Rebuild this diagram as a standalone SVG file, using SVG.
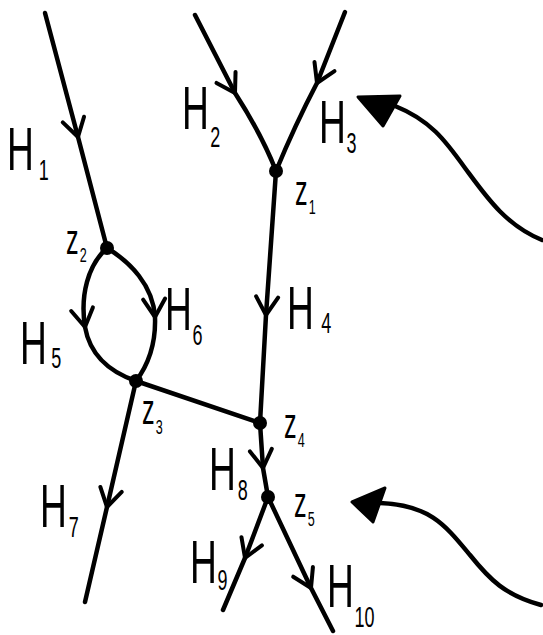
<svg xmlns="http://www.w3.org/2000/svg" width="543" height="635" viewBox="0 0 543 635">
<style>
.e{fill:none;stroke:#000;stroke-width:4.5;stroke-linecap:round;stroke-linejoin:round}
.a{fill:none;stroke:#000;stroke-width:4.5;stroke-linecap:round;stroke-linejoin:round;marker-mid:url(#chev)}
.n{fill:#000}
text{font-family:"Liberation Sans",Arial,sans-serif;fill:#000}
.H{font-size:62px}
.s{font-size:30px}
.z{font-size:42px}
.zs{font-size:21px}
</style>
<defs>
<marker id="chev" markerUnits="userSpaceOnUse" viewBox="-22 -14 26 28" markerWidth="26" markerHeight="28" refX="0" refY="0" orient="auto">
<path d="M-18,-11 L0,0 L-18,11" fill="none" stroke="#000" stroke-width="4" stroke-linecap="round" stroke-linejoin="round"/>
</marker>
</defs>
<g id="connectors">
<path id="e-H1" class="a" d="M45,13 L78,137 L107,248"/>
<path id="e-H2" class="a" d="M195,15 L235,93 Q262,135 276,171"/>
<path id="e-H3" class="a" d="M345,12 L317,83 Q295,125 276,171"/>
<path id="e-H4" class="a" d="M276,171 L266,315 L260,423"/>
<path id="e-H5" class="a" d="M107,248 C88,265 80,295 85,327 C90,355 110,372 136,381"/>
<path id="e-H6" class="a" d="M107,248 C130,262 153,285 155,317 C156,345 148,365 136,381"/>
<path id="e-z3z4" class="e" d="M136,381 L260,423"/>
<path id="e-H7" class="a" d="M136,381 L107,507 L85,602"/>
<path id="e-H8" class="a" d="M260,423 L263,468 L268,497"/>
<path id="e-H9" class="a" d="M268,497 L245,558 L223,610"/>
<path id="e-H10" class="a" d="M268,497 L311,588 L333,631"/>
<path id="pointer-top" class="e" d="M542,240 C505,225 485,195 465,168 C445,140 430,120 395,106"/>
<polygon points="358,97 400,96 383,126" fill="#000" stroke="#000" stroke-width="3" stroke-linejoin="round"/>
<path id="pointer-bottom" class="e" d="M541,605 C505,595 490,580 470,555 C445,525 430,505 380,503"/>
<polygon points="352,502 385,488 373,522" fill="#000" stroke="#000" stroke-width="3" stroke-linejoin="round"/>
</g>
<g id="z1"><circle class="n" cx="276" cy="171" r="7"/><text class="z" transform="translate(295,205) scale(0.6,1)">z<tspan class="zs" x="23" y="9">1</tspan></text></g>
<g id="z2"><circle class="n" cx="107" cy="248" r="7"/><text class="z" transform="translate(66,254) scale(0.6,1)">z<tspan class="zs" x="23" y="8">2</tspan></text></g>
<g id="z3"><circle class="n" cx="136" cy="381" r="7"/><text class="z" transform="translate(142,424) scale(0.6,1)">z<tspan class="zs" x="23" y="10">3</tspan></text></g>
<g id="z4"><circle class="n" cx="260" cy="423" r="7"/><text class="z" transform="translate(284,438) scale(0.6,1)">z<tspan class="zs" x="23" y="9">4</tspan></text></g>
<g id="z5"><circle class="n" cx="268" cy="497" r="7"/><text class="z" transform="translate(294,517) scale(0.6,1)">z<tspan class="zs" x="23" y="9">5</tspan></text></g>
<g id="H1"><text class="H" transform="translate(7,170) scale(0.6,1)">H<tspan class="s" x="53" y="10">1</tspan></text></g>
<g id="H2"><text class="H" transform="translate(182,129) scale(0.6,1)">H<tspan class="s" x="47" y="18">2</tspan></text></g>
<g id="H3"><text class="H" transform="translate(319,143) scale(0.6,1)">H<tspan class="s" x="46" y="10">3</tspan></text></g>
<g id="H4"><text class="H" transform="translate(287,329) scale(0.6,1)">H<tspan class="s" x="57" y="4">4</tspan></text></g>
<g id="H5"><text class="H" transform="translate(20,364) scale(0.6,1)">H<tspan class="s" x="52" y="4">5</tspan></text></g>
<g id="H6"><text class="H" transform="translate(165,330) scale(0.6,1)">H<tspan class="s" x="46" y="15">6</tspan></text></g>
<g id="H7"><text class="H" transform="translate(40,527) scale(0.6,1)">H<tspan class="s" x="48" y="10">7</tspan></text></g>
<g id="H8"><text class="H" transform="translate(209,490) scale(0.6,1)">H<tspan class="s" x="48" y="10">8</tspan></text></g>
<g id="H9"><text class="H" transform="translate(190,583) scale(0.6,1)">H<tspan class="s" x="46" y="7">9</tspan></text></g>
<g id="H10"><text class="H" transform="translate(327,607) scale(0.6,1)">H<tspan class="s" x="46" y="20">10</tspan></text></g>
</svg>
